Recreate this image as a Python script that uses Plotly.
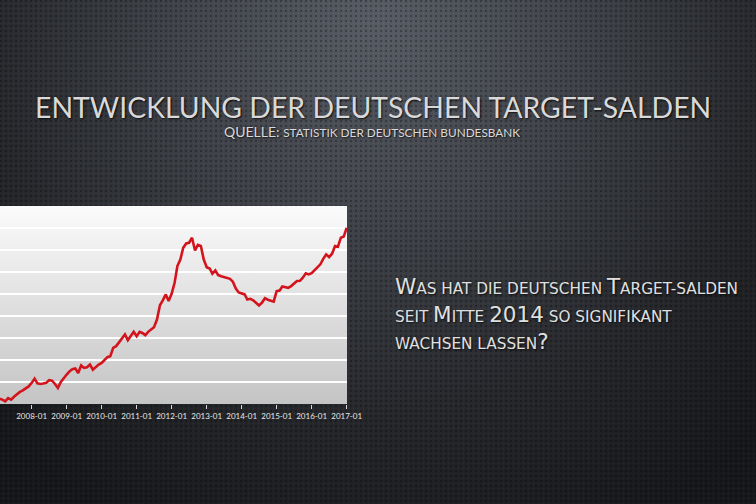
import base64
import pandas as pd
import plotly.graph_objects as go

# ---- data (German TARGET balances, bn EUR, monthly) ----
start_month = "2007-01"
values = [24, 24, 20, 12, 27, 20, 33, 46, 55, 62, 73, 80,
          96, 115, 94, 91, 93, 96, 108, 106, 91, 73, 100, 118,
          134, 149, 158, 161, 141, 175, 164, 167, 179, 156, 168, 179,
          187, 202, 213, 217, 255, 263, 281, 301, 316, 290, 308, 328,
          308, 328, 323, 313, 328, 339, 349, 384, 449, 471, 498, 468,
          501, 551, 627, 657, 710, 730, 733, 756, 698, 723, 718, 657,
          622, 616, 592, 607, 586, 581, 578, 574, 569, 556, 525, 507,
          502, 498, 475, 478, 471, 460, 448, 461, 481, 474, 468, 465,
          513, 516, 534, 531, 528, 536, 546, 559, 560, 574, 594, 589,
          595, 609, 619, 635, 660, 680, 668, 683, 718, 715, 756, 761,
          801]
dates = pd.date_range(start_month, periods=len(values), freq="MS")

tick_vals = ["2008-01-01", "2009-01-01", "2010-01-01", "2011-01-01",
             "2012-01-01", "2013-01-01", "2014-01-01", "2015-01-01",
             "2016-01-01", "2017-01-01"]
tick_text = ["2008-01", "2009-01", "2010-01", "2011-01", "2012-01",
             "2013-01", "2014-01", "2015-01", "2016-01", "2017-01"]
cut_tick_val = "2007-01-01"
cut_tick_text = "2007-01"

title_text = "ENTWICKLUNG DER DEUTSCHEN TARGET-SALDEN"
subtitle_big = "QUELLE:"
subtitle_small = "STATISTIK DER DEUTSCHEN BUNDESBANK"


def svg_uri(svg):
    return "data:image/svg+xml;base64," + base64.b64encode(svg.encode()).decode()


bg_svg = """<svg xmlns='http://www.w3.org/2000/svg' width='756' height='504' viewBox='0 0 756 504'>
<defs>
<radialGradient id='g' cx='378' cy='20' r='560' gradientUnits='userSpaceOnUse'>
<stop offset='0' stop-color='#585c65'/>
<stop offset='0.35' stop-color='#41444a'/>
<stop offset='0.7' stop-color='#26282c'/>
<stop offset='1' stop-color='#17181b'/>
</radialGradient>
<pattern id='p' width='5' height='5' patternUnits='userSpaceOnUse'>
<rect x='0' y='0' width='2' height='2' fill='#000' fill-opacity='0.28'/>
<rect x='3' y='3' width='1' height='1' fill='#fff' fill-opacity='0.05'/>
</pattern>
</defs>
<rect width='756' height='504' fill='url(#g)'/>
<rect width='756' height='504' fill='url(#p)'/>
</svg>"""

plot_svg = """<svg xmlns='http://www.w3.org/2000/svg' width='100' height='100' preserveAspectRatio='none'>
<defs><linearGradient id='l' x1='0' y1='0' x2='0' y2='1'>
<stop offset='0' stop-color='#fbfbfb'/>
<stop offset='1' stop-color='#c4c4c4'/>
</linearGradient></defs>
<rect width='100' height='100' fill='url(#l)'/>
</svg>"""

fig = go.Figure()
fig.add_trace(go.Scatter(x=dates, y=values, mode="lines",
                         line=dict(color="#d4141c", width=2.6),
                         hoverinfo="skip", showlegend=False))

fig.update_layout(
    width=756, height=504, autosize=False,
    margin=dict(l=0, r=0, t=0, b=0, pad=0),
    paper_bgcolor="#1a1b1f",
    plot_bgcolor="rgba(0,0,0,0)",
    font=dict(family="Lato, 'DejaVu Sans', sans-serif", color="#e2e2e2"),
    xaxis=dict(domain=[0, 347 / 756], type="date", automargin=False,
               range=["2007-02-05", "2017-01-04"],
               tickvals=tick_vals, ticktext=tick_text,
               ticks="outside", ticklen=4, tickwidth=1, tickcolor="#d8d8d8",
               tickfont=dict(size=8, color="#e6e6e6"),
               showgrid=False, zeroline=False, showline=False),
    yaxis=dict(domain=[1 - 404 / 504, 1 - 206 / 504], range=[0, 900],
               automargin=False,
               dtick=100, showticklabels=False, ticks="",
               showgrid=True, gridcolor="#ffffff", gridwidth=1.5,
               zeroline=False, showline=False),
    images=[
        dict(source=svg_uri(bg_svg), xref="paper", yref="paper",
             x=0, y=1, sizex=1, sizey=1, sizing="stretch", layer="below"),
        dict(source=svg_uri(plot_svg), xref="x domain", yref="y domain",
             x=0, y=1, sizex=1, sizey=1, sizing="stretch", layer="below"),
    ],
)

shadow = "1px 1px 2px rgba(0,0,0,0.8)"

# partially visible first tick label at the cut left edge
fig.add_annotation(xref="x", yref="paper", x=cut_tick_val, y=1 - 413 / 504,
                   text=cut_tick_text, showarrow=False, xanchor="center", yanchor="middle",
                   font=dict(size=8, color="#e6e6e6"))

fig.add_annotation(xref="paper", yref="paper", x=373 / 756, y=1 - 107 / 504,
                   text=title_text, showarrow=False, xanchor="center", yanchor="middle",
                   font=dict(size=28.4, color="#d9d9d9", shadow=shadow))
fig.add_annotation(xref="paper", yref="paper", x=372 / 756, y=1 - 132 / 504,
                   text=f"{subtitle_big} <span style='font-size:11.8px'>{subtitle_small}</span>",
                   showarrow=False, xanchor="center", yanchor="middle",
                   font=dict(size=14, color="#d9d9d9", shadow=shadow))

B = "<span style='font-size:21.5px'>{}</span>"
q_lines = [
    B.format("W") + "AS HAT DIE DEUTSCHEN " + B.format("T") + "ARGET-SALDEN",
    "SEIT " + B.format("M") + "ITTE " + B.format("2014") + " SO SIGNIFIKANT",
    "WACHSEN LASSEN" + B.format("?"),
]
q_baselines = [292, 320, 347]
for line, yb in zip(q_lines, q_baselines):
    fig.add_annotation(xref="paper", yref="paper", x=393 / 756, y=1 - (yb - 6) / 504,
                       text=line, showarrow=False, xanchor="left", yanchor="middle",
                       align="left",
                       font=dict(family="'DejaVu Sans', sans-serif", size=15.3,
                                 color="#e0e0e0", shadow=shadow))

post = ("document.body.style.margin='0';"
        "document.body.style.overflow='hidden';"
        "document.documentElement.style.overflow='hidden';"
        "document.body.style.background='#17181b';")

fig.write_html("out.html",
               config={"displayModeBar": False, "staticPlot": True},
               post_script=post)
